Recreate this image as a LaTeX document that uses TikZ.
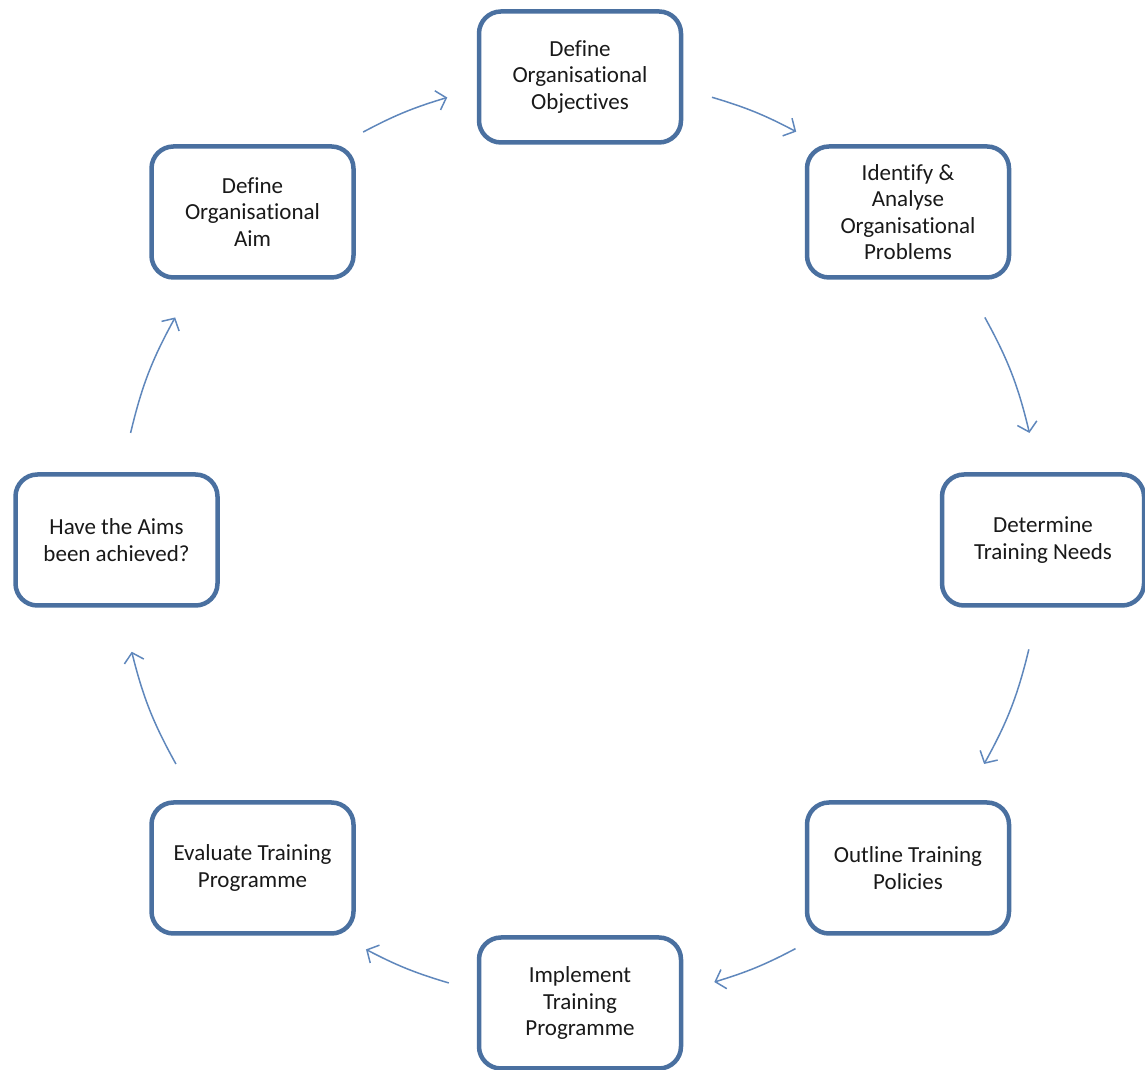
\documentclass[tikz,border=0pt]{standalone}
\usepackage{fontspec}
\setmainfont[Ligatures=NoCommon]{Carlito}
\usetikzlibrary{arrows.meta}
\definecolor{boxblue}{RGB}{74,112,160}
\definecolor{arrblue}{RGB}{95,135,188}
\definecolor{txt}{RGB}{25,25,25}
\tikzset{
  stepbox/.style={draw=boxblue, line width=4.5pt, rounded corners=22pt, fill=white,
    minimum width=202pt, minimum height=131pt, align=center, text=txt,
    font=\fontsize{23}{26.5}\selectfont, inner sep=2pt},
  arr/.style={draw=arrblue, line width=1.5pt, -{Straight Barb[length=9pt,width=20pt,line width=1.5pt]}}
}
\begin{document}
\begin{tikzpicture}[x=1pt,y=1pt]
\useasboundingbox (0,0) rectangle (1145,1070);
\coordinate (C) at (580,530);
% boxes
\node[stepbox] (obj) at ([shift={(90:463pt)}]C) {Define\\Organisational\\Objectives};
\node[stepbox] (ident) at ([shift={(328pt,328pt)}]C) {Identify \&\\Analyse\\Organisational\\Problems};
\node[stepbox] (det) at ([shift={(0:463pt)}]C) {Determine\\Training Needs};
\node[stepbox] (outl) at ([shift={(328pt,-328pt)}]C) {Outline Training\\Policies};
\node[stepbox] (impl) at ([shift={(-90:463pt)}]C) {Implement\\Training\\Programme};
\node[stepbox] (eval) at ([shift={(-327.5pt,-328pt)}]C) {Evaluate Training\\Programme};
\node[stepbox] (have) at ([shift={(180:463.5pt)}]C) {Have the Aims\\been achieved?};
\node[stepbox] (aim) at ([shift={(-327.5pt,328pt)}]C) {Define\\Organisational\\Aim};
% arrow ends
\coordinate (a1s) at ([shift={(118:462pt)}]C);
\coordinate (a1e) at ([shift={(106.7:462pt)}]C);
\coordinate (a2s) at ([shift={(73.4:462pt)}]C);
\coordinate (a2e) at ([shift={(62.1:462pt)}]C);
\coordinate (a3s) at ([shift={(28.8:462pt)}]C);
\coordinate (a3e) at ([shift={(13.4:462pt)}]C);
\coordinate (a4s) at ([shift={(-13.7:462pt)}]C);
\coordinate (a4e) at ([shift={(-29:462pt)}]C);
\coordinate (a5s) at ([shift={(-62.2:462pt)}]C);
\coordinate (a5e) at ([shift={(-73.1:462pt)}]C);
\coordinate (a6s) at ([shift={(-106.5:462pt)}]C);
\coordinate (a6e) at ([shift={(-117.6:462pt)}]C);
\coordinate (a7s) at ([shift={(-151:462pt)}]C);
\coordinate (a7e) at ([shift={(-166:462pt)}]C);
\coordinate (a8s) at ([shift={(166.6:462pt)}]C);
\coordinate (a8e) at ([shift={(151.2:462pt)}]C);
\draw[arr] (a1s) to[bend left=5.65] (a1e);
\draw[arr] (a2s) to[bend left=5.65] (a2e);
\draw[arr] (a3s) to[bend left=7.7] (a3e);
\draw[arr] (a4s) to[bend left=7.65] (a4e);
\draw[arr] (a5s) to[bend left=5.45] (a5e);
\draw[arr] (a6s) to[bend left=5.55] (a6e);
\draw[arr] (a7s) to[bend left=7.5] (a7e);
\draw[arr] (a8s) to[bend left=7.7] (a8e);
\end{tikzpicture}
\end{document}
